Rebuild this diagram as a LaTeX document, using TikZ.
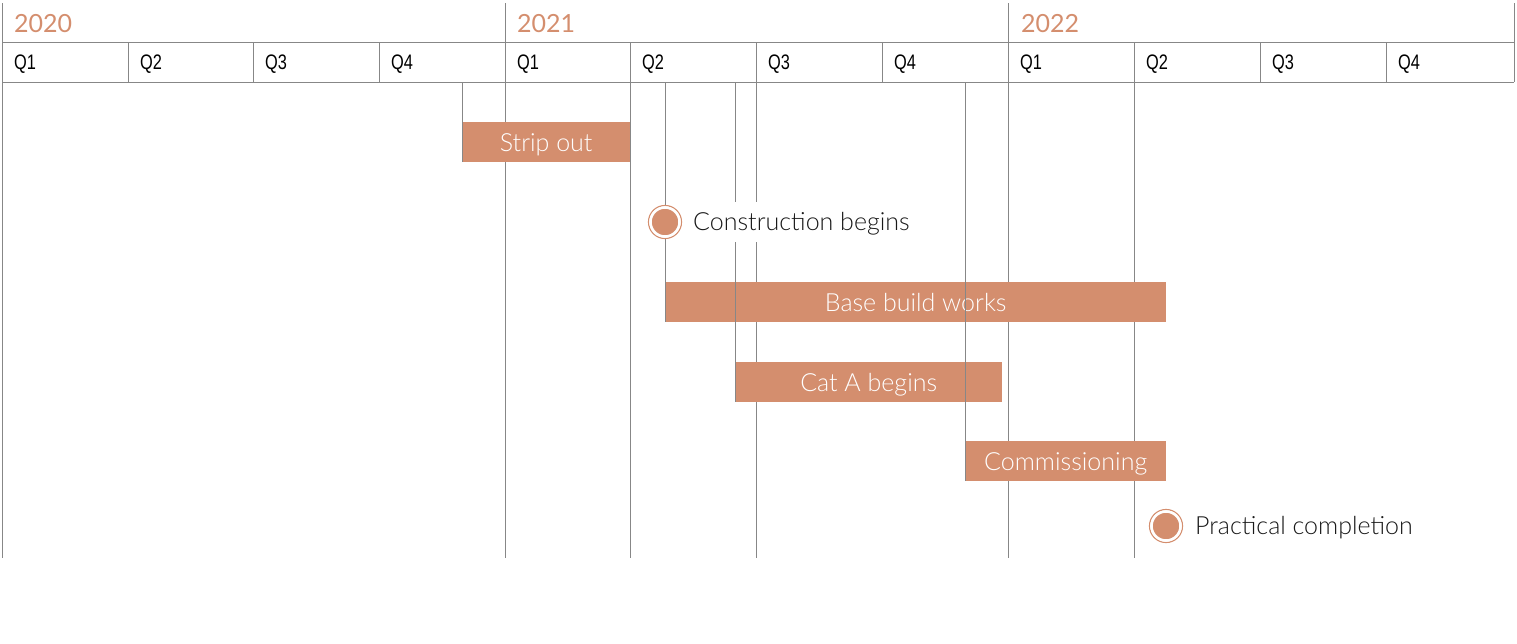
\documentclass[tikz,border=0pt]{standalone}
\usepackage{fontspec}
\setmainfont{Lato}[UprightFont=* Light]
\newfontfamily\yearfont{Lato}
\newfontfamily\qfont{Liberation Sans}[FakeStretch=0.78]
\definecolor{accent}{RGB}{212,142,110}
\definecolor{gridc}{RGB}{135,135,135}
\tikzset{
  grid line/.style={draw=gridc, line width=1pt},
  bar/.style={fill=accent, draw=none, text=white, inner sep=0pt, anchor=north west,
    minimum height=40pt, font=\fontsize{25}{25}\selectfont},
  bartext/.style={text=white, inner sep=0pt, anchor=center, font=\fontsize{25}{25}\selectfont},
  yearlabel/.style={anchor=base west, text=accent, inner sep=0pt, font=\yearfont\fontsize{25}{25}\selectfont},
  qlabel/.style={anchor=base west, inner sep=0pt, font=\qfont\fontsize{21}{21}\selectfont},
  milestone/.style={circle, fill=accent, draw=white, line width=2.5pt, minimum size=29pt, inner sep=0pt},
  msring/.style={circle, draw=accent, line width=1.2pt, fill=white, minimum size=33pt, inner sep=0pt},
  msback/.style={fill=white, draw=none, inner sep=0pt, anchor=west, minimum height=40pt},
  mslabel/.style={anchor=base west, inner sep=0pt, text=black!90,
    font=\fontsize{25}{25}\selectfont},
}
\begin{document}
\begin{tikzpicture}[x=1pt,y=-1pt]
\useasboundingbox (0,0) rectangle (1517,643);
% header lines
\coordinate (hl0) at (2,42);  \coordinate (hr0) at (1514,42);
\coordinate (hl1) at (2,82);  \coordinate (hr1) at (1514,82);
\draw[grid line] (hl0) -- (hr0);
\draw[grid line] (hl1) -- (hr1);
% year separators (full height)
\foreach \x in {2,505,1008}
  \draw[grid line] (\x,3) -- (\x,558);
\draw[grid line] (1514,3) -- (1514,82);
% quarter separators in header
\foreach \x in {128,253,379,630,756,882,1134,1260,1386}
  \draw[grid line] (\x,42) -- (\x,82);
% quarter lines extending down
\foreach \x in {630,756,1134}
  \draw[grid line] (\x,82) -- (\x,558);
% years
\node[yearlabel] (y2020) at (14,32) {2020};
\node[yearlabel] (y2021) at (517,32) {2021};
\node[yearlabel] (y2022) at (1021,32) {2022};
% quarters
\foreach \x/\q [count=\i] in {2/Q1,128/Q2,253/Q3,379/Q4,505/Q1,630/Q2,756/Q3,882/Q4,1008/Q1,1134/Q2,1260/Q3,1386/Q4}
  \node[qlabel] (q\i) at (\x+12,69.5) {\q};
% bars
\node[bar, minimum width=168pt] (strip) at (462,122) {};
\node[bar, minimum width=501pt] (base) at (665,282) {};
\node[bar, minimum width=267pt] (cata) at (735,362) {};
\node[bar, minimum width=201pt] (comm) at (965,441) {};
\node[bartext, anchor=base] (stript) at ([yshift=-9pt]strip.center) {Strip out};
\node[bartext, anchor=base] (baset) at ([yshift=-9pt]base.center) {Base build works};
\node[bartext, anchor=base] (catat) at ([yshift=-9pt]cata.center) {Cat A begins};
\node[bartext, anchor=base] (commt) at ([yshift=-9pt]comm.center) {Commissioning};
% start lines to bars
\coordinate (s1) at (462,82);
\coordinate (s2) at (665,82);
\coordinate (s3) at (735,82);
\coordinate (s4) at (965,82);
\draw[grid line] (s1) -- (strip.south west);
\draw[grid line] (s2) -- (base.south west);
\draw[grid line] (s3) -- (cata.south west);
\draw[grid line] (s4) -- (comm.south west);
% milestones
\node[msback, minimum width=222pt] (m1b) at (690,222) {};
\node[mslabel] (m1t) at (693,230.5) {Construction begins};
\node[msring] (m1r) at (665,222) {};
\node[milestone] (m1) at (665,222) {};
\node[msback, minimum width=222pt] (m2b) at (1192,526) {};
\node[mslabel] (m2t) at (1195,534.5) {Practical completion};
\node[msring] (m2r) at (1166,526) {};
\node[milestone] (m2) at (1166,526) {};
\end{tikzpicture}
\end{document}
